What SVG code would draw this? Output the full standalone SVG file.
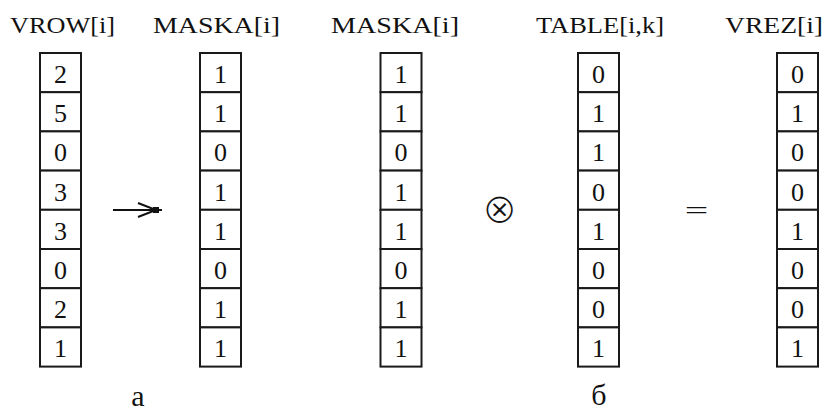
<svg xmlns="http://www.w3.org/2000/svg" width="835" height="412" viewBox="0 0 835 412">
<style>
.cell{fill:#fff;stroke:#1a1a1a;stroke-width:2}
.d{font-family:"Liberation Serif",serif;font-size:26px;fill:#111;text-anchor:middle}
.h{font-family:"Liberation Serif",serif;font-size:24px;fill:#111;text-anchor:middle}
.lbl{font-family:"Liberation Serif",serif;font-size:30px;fill:#111;text-anchor:middle}
.op{font-family:"DejaVu Sans ExtraLight","DejaVu Sans",sans-serif;font-weight:200;fill:#111;text-anchor:middle}
.thin{stroke:#fff;stroke-width:1.2px}
</style>
<rect width="835" height="412" fill="#fff"/>
<defs>
<g id="col8">
<rect class="cell" x="0" y="0" width="41" height="39.2"/>
<rect class="cell" x="0" y="39.2" width="41" height="39.2"/>
<rect class="cell" x="0" y="78.4" width="41" height="39.2"/>
<rect class="cell" x="0" y="117.6" width="41" height="39.2"/>
<rect class="cell" x="0" y="156.8" width="41" height="39.2"/>
<rect class="cell" x="0" y="196" width="41" height="39.2"/>
<rect class="cell" x="0" y="235.2" width="41" height="39.2"/>
<rect class="cell" x="0" y="274.4" width="41" height="39.2"/>
</g>
</defs>
<g id="vrow">
<text class="h" x="62.5" y="33" textLength="105" lengthAdjust="spacingAndGlyphs">VROW[i]</text>
<use href="#col8" x="40" y="53"/>
<text class="d" x="60.5" y="83">2</text><text class="d" x="60.5" y="122.2">5</text><text class="d" x="60.5" y="161.4">0</text><text class="d" x="60.5" y="200.6">3</text><text class="d" x="60.5" y="239.8">3</text><text class="d" x="60.5" y="279">0</text><text class="d" x="60.5" y="318.2">2</text><text class="d" x="60.5" y="357.4">1</text>
</g>
<g id="maska1">
<text class="h" x="216.5" y="33" textLength="127" lengthAdjust="spacingAndGlyphs">MASKA[i]</text>
<use href="#col8" x="200" y="53"/>
<text class="d" x="220.5" y="83">1</text><text class="d" x="220.5" y="122.2">1</text><text class="d" x="220.5" y="161.4">0</text><text class="d" x="220.5" y="200.6">1</text><text class="d" x="220.5" y="239.8">1</text><text class="d" x="220.5" y="279">0</text><text class="d" x="220.5" y="318.2">1</text><text class="d" x="220.5" y="357.4">1</text>
</g>
<g id="maska2">
<text class="h" x="395" y="33" textLength="128" lengthAdjust="spacingAndGlyphs">MASKA[i]</text>
<use href="#col8" x="380.5" y="53"/>
<text class="d" x="401" y="83">1</text><text class="d" x="401" y="122.2">1</text><text class="d" x="401" y="161.4">0</text><text class="d" x="401" y="200.6">1</text><text class="d" x="401" y="239.8">1</text><text class="d" x="401" y="279">0</text><text class="d" x="401" y="318.2">1</text><text class="d" x="401" y="357.4">1</text>
</g>
<g id="table">
<text class="h" x="600" y="33" textLength="128" lengthAdjust="spacingAndGlyphs">TABLE[i,k]</text>
<use href="#col8" x="578" y="53"/>
<text class="d" x="598.5" y="83">0</text><text class="d" x="598.5" y="122.2">1</text><text class="d" x="598.5" y="161.4">1</text><text class="d" x="598.5" y="200.6">0</text><text class="d" x="598.5" y="239.8">1</text><text class="d" x="598.5" y="279">0</text><text class="d" x="598.5" y="318.2">0</text><text class="d" x="598.5" y="357.4">1</text>
</g>
<g id="vrez">
<text class="h" x="774" y="33" textLength="98" lengthAdjust="spacingAndGlyphs">VREZ[i]</text>
<use href="#col8" x="777" y="53"/>
<text class="d" x="797.5" y="83">0</text><text class="d" x="797.5" y="122.2">1</text><text class="d" x="797.5" y="161.4">0</text><text class="d" x="797.5" y="200.6">0</text><text class="d" x="797.5" y="239.8">1</text><text class="d" x="797.5" y="279">0</text><text class="d" x="797.5" y="318.2">0</text><text class="d" x="797.5" y="357.4">1</text>
</g>
<g id="connectors">
<line x1="113" y1="210" x2="162" y2="210" stroke="#111" stroke-width="2"/>
<polyline points="138,203 156,210 138,217" fill="none" stroke="#111" stroke-width="2"/>
<rect x="153" y="207" width="6" height="6" fill="#111"/>
</g>
<g id="operators">
<text class="op thin" x="499.5" y="222.5" font-size="42">⊗</text>
<text class="op" x="696.5" y="219.5" font-size="31">=</text>
</g>
<g id="labels">
<text class="lbl" x="138" y="406">а</text>
<text class="lbl" x="599" y="405">б</text>
</g>
</svg>
